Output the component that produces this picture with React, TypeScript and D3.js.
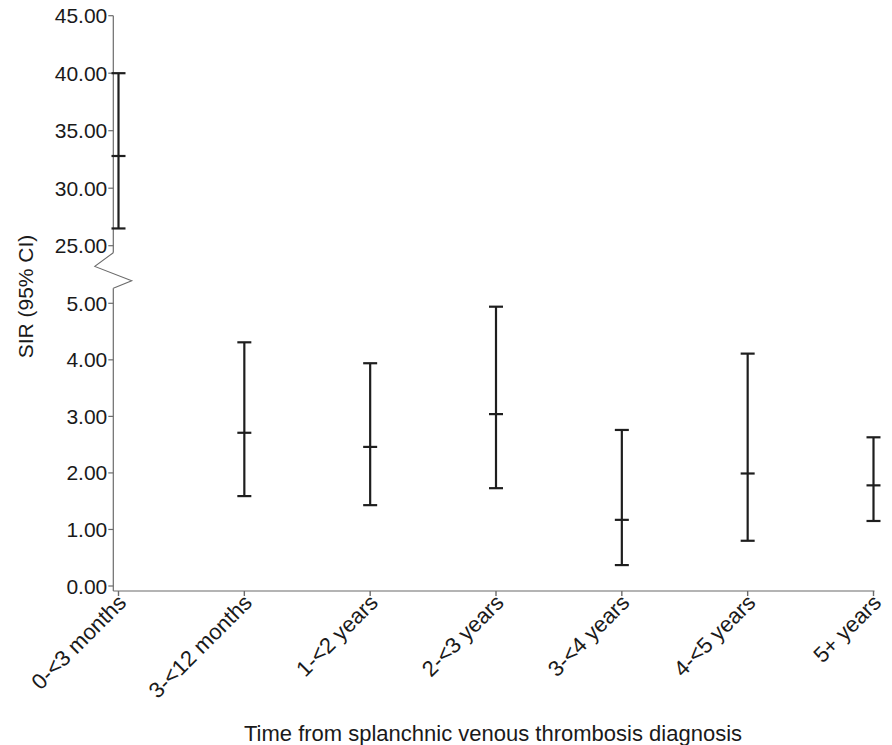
import React from "react";
import * as d3 from "d3";

const categories = ["0-<3 months", "3-<12 months", "1-<2 years", "2-<3 years", "3-<4 years", "4-<5 years", "5+ years"];
const sir = [32.8, 2.71, 2.46, 3.04, 1.17, 1.99, 1.78];
const lowerCI = [26.5, 1.59, 1.43, 1.73, 0.37, 0.8, 1.15];
const upperCI = [40.0, 4.31, 3.94, 4.94, 2.76, 4.11, 2.63];
const lowTicks = [0, 1, 2, 3, 4, 5];
const highTicks = [25, 30, 35, 40, 45];

const W = 892;
const H = 745;
const AXIS_X = 113.3;
const AXIS_Y = 591;
const FONT = "'Liberation Sans', Arial, Helvetica, sans-serif";

export default function App() {
  const x = d3.scalePoint<string>().domain(categories).range([118.5, 873.5]);
  const yLow = d3.scaleLinear().domain([0, 5]).range([586, 303.3]);
  const yHigh = d3.scaleLinear().domain([25, 45]).range([245.7, 15.7]);
  const y = (v: number) => (v > 5 ? yHigh(v) : yLow(v));
  const fmt = d3.format(".2f");

  const breakTop = yHigh(25) + 7;
  const breakBot = yLow(5) - 15;
  const zig = d3.line()([
    [AXIS_X, breakTop],
    [AXIS_X - 18.5, breakTop + 13.7],
    [AXIS_X + 18.4, breakTop + 28],
    [AXIS_X, breakBot],
  ] as [number, number][]);

  const axisColor = "#6b6b6b";
  const barColor = "#1e1e1e";
  const textColor = "#1a1a1a";
  const capHalf = 7;

  return (
    <svg width={W} height={H} style={{ position: "absolute", left: 0, top: 0, background: "#fff" }} fontFamily={FONT}>
      <rect x={0} y={0} width={W} height={H} fill="#fff" />
      <line x1={AXIS_X} x2={AXIS_X} y1={yHigh(45)} y2={breakTop} stroke={axisColor} strokeWidth={1.2} />
      <path d={zig || ""} fill="none" stroke={axisColor} strokeWidth={1.1} />
      <line x1={AXIS_X} x2={AXIS_X} y1={breakBot} y2={AXIS_Y} stroke={axisColor} strokeWidth={1.2} />
      <line x1={AXIS_X} x2={(x(categories[categories.length - 1]) as number) + 1} y1={AXIS_Y} y2={AXIS_Y} stroke={axisColor} strokeWidth={1.2} />

      {highTicks.map((t) => (
        <g key={"h" + t}>
          <line x1={AXIS_X - 5} x2={AXIS_X} y1={yHigh(t)} y2={yHigh(t)} stroke={axisColor} strokeWidth={1.2} />
          <text x={AXIS_X - 6} y={yHigh(t)} dy="0.36em" textAnchor="end" fontSize={21} fill={textColor}>
            {fmt(t)}
          </text>
        </g>
      ))}
      {lowTicks.map((t) => (
        <g key={"l" + t}>
          <line x1={AXIS_X - 5} x2={AXIS_X} y1={yLow(t)} y2={yLow(t)} stroke={axisColor} strokeWidth={1.2} />
          <text x={AXIS_X - 6} y={yLow(t)} dy="0.36em" textAnchor="end" fontSize={21} fill={textColor}>
            {fmt(t)}
          </text>
        </g>
      ))}

      {categories.map((c) => {
        const cx = x(c) as number;
        return (
          <g key={"x" + c}>
            <line x1={cx} x2={cx} y1={AXIS_Y} y2={AXIS_Y + 5} stroke={axisColor} strokeWidth={1.4} />
            <text
              transform={`translate(${cx + 9},${AXIS_Y + 13}) rotate(-45)`}
              textAnchor="end"
              fontSize={22}
              fill={textColor}
            >
              {c}
            </text>
          </g>
        );
      })}

      {categories.map((c, i) => {
        const cx = x(c) as number;
        return (
          <g key={"b" + c} stroke={barColor} strokeWidth={2.2}>
            <line x1={cx} x2={cx} y1={y(upperCI[i])} y2={y(lowerCI[i])} />
            <line x1={cx - capHalf} x2={cx + capHalf} y1={y(upperCI[i])} y2={y(upperCI[i])} />
            <line x1={cx - capHalf} x2={cx + capHalf} y1={y(sir[i])} y2={y(sir[i])} />
            <line x1={cx - capHalf} x2={cx + capHalf} y1={y(lowerCI[i])} y2={y(lowerCI[i])} />
          </g>
        );
      })}

      <text transform={`translate(33,296.5) rotate(-90)`} textAnchor="middle" fontSize={21} fill={textColor}>
        SIR (95% CI)
      </text>
      <text x={493} y={741} textAnchor="middle" fontSize={22} fill={textColor}>
        Time from splanchnic venous thrombosis diagnosis
      </text>
    </svg>
  );
}
